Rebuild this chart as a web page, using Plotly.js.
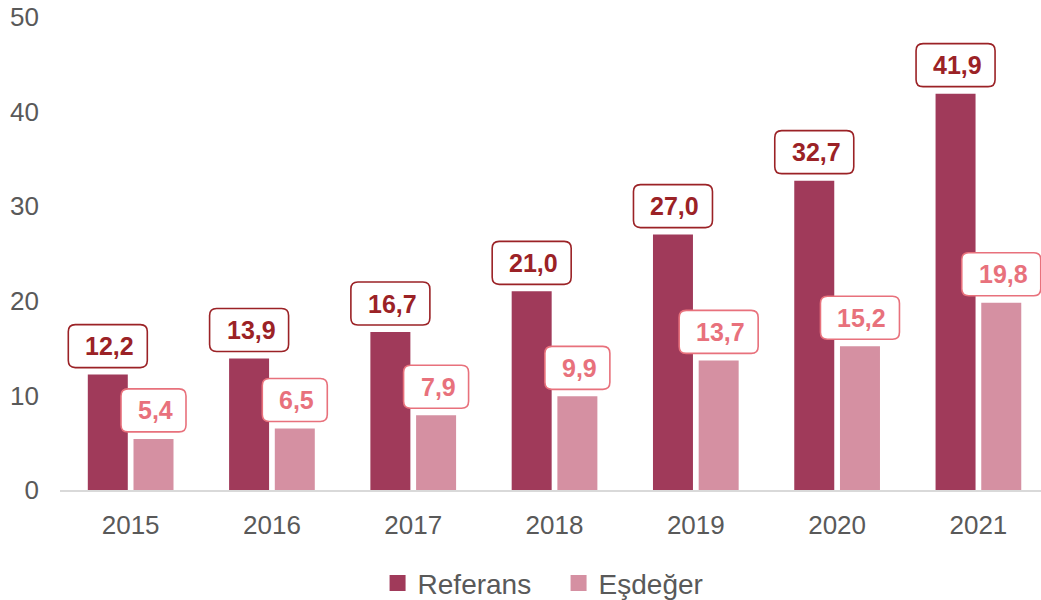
<!DOCTYPE html>
<html>
<head>
<meta charset="utf-8">
<script src="https://cdn.plot.ly/plotly-3.0.1.min.js"></script>
<style>html,body{margin:0;padding:0;background:#fff;}#chart{width:1041px;height:600px;}</style>
</head>
<body>
<div id="chart"></div>
<script>
const years = ['2015','2016','2017','2018','2019','2020','2021'];
const referans = [12.2, 13.9, 16.7, 21.0, 27.0, 32.7, 41.9];
const esdeger = [5.4, 6.5, 7.9, 9.9, 13.7, 15.2, 19.8];
const seriesNames = ['Referans', 'Eşdeğer'];

const colRef = '#A03A5A';
const colEs = '#D590A2';
const lblRef = '#9B2226';
const lblEs = '#E8717C';
const FONT = 'Liberation Sans, Arial, sans-serif';

const fmt = v => v.toFixed(1).replace('.', ',');

const traces = [
  {type:'bar', x: years, y: referans, name: seriesNames[0], marker:{color: colRef}, showlegend:false, hoverinfo:'skip'},
  {type:'bar', x: years, y: esdeger, name: seriesNames[1], marker:{color: colEs}, showlegend:false, hoverinfo:'skip'},
  {type:'scatter', mode:'markers', x:[null], y:[null], name: seriesNames[0], marker:{symbol:'square', size:16, color: colRef}},
  {type:'scatter', mode:'markers', x:[null], y:[null], name: seriesNames[1], marker:{symbol:'square', size:16, color: colEs}}
];

// rounded box path (pixels, relative to anchor; y positive up)
function roundedBox(cx, y0, w, h, r) {
  const x0 = cx - w / 2, x1 = cx + w / 2, y1 = y0 + h;
  return `M${x0 + r},${y0} L${x1 - r},${y0} Q${x1},${y0} ${x1},${y0 + r} ` +
         `L${x1},${y1 - r} Q${x1},${y1} ${x1 - r},${y1} L${x0 + r},${y1} ` +
         `Q${x0},${y1} ${x0},${y1 - r} L${x0},${y0 + r} Q${x0},${y0} ${x0 + r},${y0} Z`;
}

const annotations = [];
const shapes = [];
const GAP = 7, BOXH = 43;
function addLabels(vals, shift, color) {
  vals.forEach((v, i) => {
    const t = fmt(v);
    const w = t.length > 3 ? 79 : 65;
    shapes.push({
      type:'path', xref:'x', yref:'y', xsizemode:'pixel', ysizemode:'pixel',
      xanchor: i, yanchor: v, path: roundedBox(shift, GAP, w, BOXH, 7),
      line:{color: color, width: 1.6}, fillcolor:'#ffffff', layer:'above'
    });
    annotations.push({
      x: i, y: v, xref:'x', yref:'y', text: '<b>' + t + '</b>', showarrow:false,
      xshift: shift + 2, yshift: GAP + BOXH / 2, yanchor:'middle', xanchor:'center',
      font:{family: FONT, size: 25, color: color}
    });
  });
}
addLabels(referans, -22.85, lblRef);
addLabels(esdeger, 22.85, lblEs);

const layout = {
  width: 1041, height: 600,
  margin: {l:60, r:0, t:17, b:110},
  paper_bgcolor:'#ffffff', plot_bgcolor:'#ffffff',
  barmode:'group', bargap:0.353, bargroupgap:0.125,
  font:{family: FONT, color:'#595959'},
  xaxis:{type:'category', range:[-0.5, 6.443], showgrid:false, zeroline:false,
         showline:true, linecolor:'#D9D9D9', linewidth:2, ticks:'',
         tickfont:{size:26, color:'#595959'}, ticklabelstandoff: 11, fixedrange:true},
  yaxis:{range:[0,50], dtick:10, tick0:0, showgrid:false, zeroline:false, showline:false,
         ticks:'', tickfont:{size:26, color:'#595959'}, ticklabelstandoff: 20, fixedrange:true},
  legend:{orientation:'h', xref:'container', x:0.3627, xanchor:'left', yref:'container', y:0.028, yanchor:'middle',
          font:{size:28, color:'#595959'}, itemwidth:30, tracegroupgap:0,
          entrywidth:136, entrywidthmode:'pixels'},
  annotations: annotations,
  shapes: shapes,
  showlegend:true
};

Plotly.newPlot('chart', traces, layout, {displayModeBar:false, staticPlot:true}).catch(e => {
  document.body.insertAdjacentHTML('beforeend', '<pre>' + e + '</pre>');
});
</script>
</body>
</html>
